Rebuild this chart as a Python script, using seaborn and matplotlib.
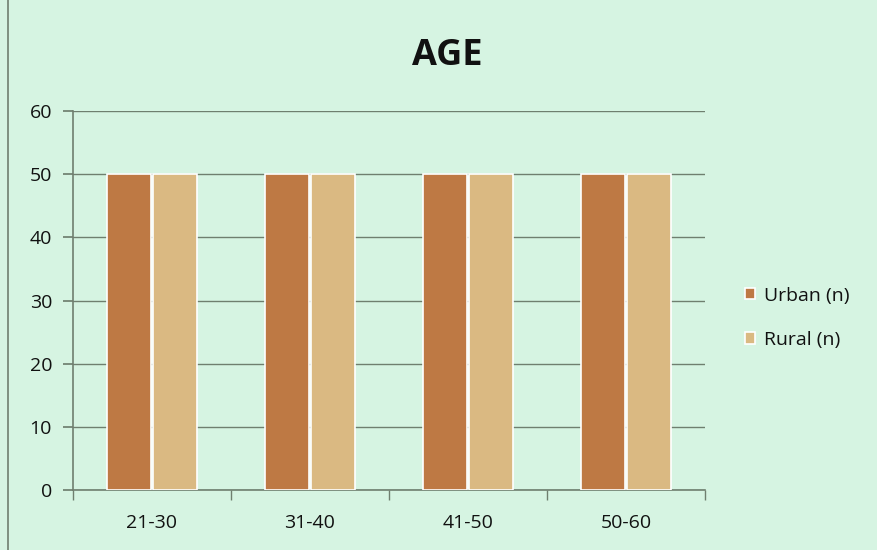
import matplotlib
matplotlib.use("Agg")
import matplotlib.pyplot as plt
import seaborn as sns
import pandas as pd

# Age groups and respondent counts per area
age_groups = ["21-30", "31-40", "41-50", "50-60"]
urban_n = [50, 50, 50, 50]
rural_n = [50, 50, 50, 50]
series_names = ["Urban (n)", "Rural (n)"]
y_ticks = [0, 10, 20, 30, 40, 50, 60]

df = pd.DataFrame({
    "Age": age_groups * 2,
    "Count": urban_n + rural_n,
    "Area": [series_names[0]] * len(age_groups) + [series_names[1]] * len(age_groups),
})

sns.set_theme(style="white")
plt.rcParams["font.family"] = ["Open Sans", "DejaVu Sans"]

bg = "#d6f4e2"
grid_c = "#6f7f6f"
palette = {series_names[0]: "#be7944", series_names[1]: "#dab982"}

fig = plt.figure(figsize=(8.78, 5.5), dpi=100, facecolor=bg)
ax = fig.add_axes([0.083, 0.109, 0.72, 0.689])
ax.set_facecolor(bg)

sns.barplot(data=df, x="Age", y="Count", hue="Area", palette=palette,
            width=0.58, gap=0.03, edgecolor="white", linewidth=1.2,
            saturation=1, ax=ax, zorder=3)

ax.set_ylim(0, 60)
ax.set_yticks(y_ticks)
ax.set_xlim(-0.5, len(age_groups) - 0.5)
ax.yaxis.grid(True, color=grid_c, linewidth=1.0)
ax.set_axisbelow(True)

for s in ["top", "right"]:
    ax.spines[s].set_visible(False)
for s in ["left", "bottom"]:
    ax.spines[s].set_color(grid_c)
    ax.spines[s].set_linewidth(1.2)

ax.tick_params(axis="y", which="major", left=True, length=7, color=grid_c,
               labelsize=14, labelcolor="#111111", pad=8)
ax.set_xticks(range(len(age_groups)))
ax.set_xticklabels(age_groups)
ax.tick_params(axis="x", which="major", bottom=False, labelsize=14,
               labelcolor="#111111", pad=11)
ax.set_xticks([i + 0.5 for i in range(-1, len(age_groups))], minor=True)
ax.tick_params(axis="x", which="minor", bottom=True, length=7, color=grid_c, width=1)

ax.set_xlabel("")
ax.set_ylabel("")
fig.text(447 / 878, 1 - 56 / 550, "AGE", fontsize=26, fontweight="bold",
         color="#111111", ha="center", va="center")

leg = ax.legend(loc="center left", bbox_to_anchor=(1.035, 0.455), frameon=False,
                fontsize=14, handlelength=0.55, handleheight=0.55,
                labelspacing=1.35, handletextpad=0.45)
for t in leg.get_texts():
    t.set_color("#111111")

# Outer chart frame
fig.add_artist(plt.Line2D([0.009, 0.009], [0.0, 1.0], color="#6f7f6f", linewidth=1.2,
                          transform=fig.transFigure))

fig.savefig("out.png", dpi=100, facecolor=bg)
